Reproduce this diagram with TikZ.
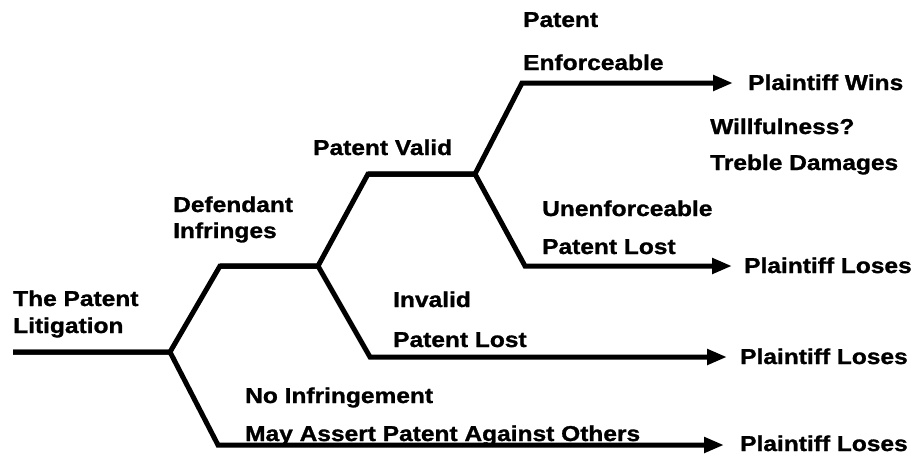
\documentclass[tikz,border=0pt]{standalone}
\usepackage{fontspec}
\setmainfont{Liberation Sans}[FakeStretch=1.14, BoldFeatures={FakeBold=1.2}]
\usetikzlibrary{arrows.meta}
\begin{document}
\begin{tikzpicture}[x=1pt,y=-1pt,
  branch/.style={line width=5pt, line join=miter, line cap=butt},
  outcome/.style={branch, -{Triangle[length=20pt,width=15pt]}},
  lbl/.style={anchor=base west, inner sep=0pt, font=\fontsize{21.5}{26}\selectfont\bfseries}]
\useasboundingbox (0,0) rectangle (917,455);

% branch points of the decision tree
\coordinate (root) at (13,352);
\coordinate (s1)   at (170,352);
\coordinate (inf0) at (220,266);
\coordinate (inf1) at (318,266);
\coordinate (non0) at (218,445);
\coordinate (nonE) at (724,445);
\coordinate (val0) at (368,174);
\coordinate (val1) at (475,174);
\coordinate (inv0) at (370,357);
\coordinate (invE) at (727,357);
\coordinate (enf0) at (522,83);
\coordinate (enfE) at (733,83);
\coordinate (une0) at (525,266);
\coordinate (uneE) at (732,266);

% branches
\draw[branch]  (root) -- (s1) -- (inf0) -- (inf1);
\draw[outcome] (root) -- (s1) -- (non0) -- (nonE);
\draw[branch]  (inf0) -- (inf1) -- (val0) -- (val1);
\draw[outcome] (inf0) -- (inf1) -- (inv0) -- (invE);
\draw[outcome] (val0) -- (val1) -- (enf0) -- (enfE);
\draw[outcome] (val0) -- (val1) -- (une0) -- (uneE);

% labels
\node[lbl] (t1a) at (13,306) {The Patent};
\node[lbl] (t1b) at (13,333) {Litigation};
\node[lbl] (t2a) at (173,212) {Defendant};
\node[lbl] (t2b) at (173,238) {Infringes};
\node[lbl] (t3)  at (313,155) {Patent Valid};
\node[lbl] (t4a) at (523,27) {Patent};
\node[lbl] (t4b) at (523,70) {Enforceable};
\node[lbl] (w1)  at (748,90) {Plaintiff Wins};
\node[lbl] (w2)  at (710,134) {Willfulness?};
\node[lbl] (w3)  at (710,170) {Treble Damages};
\node[lbl] (u1)  at (542,216) {Unenforceable};
\node[lbl] (u2)  at (542,254) {Patent Lost};
\node[lbl] (l1)  at (744,273) {Plaintiff Loses};
\node[lbl] (i1)  at (393,307) {Invalid};
\node[lbl] (i2)  at (393,347) {Patent Lost};
\node[lbl] (l2)  at (740,364) {Plaintiff Loses};
\node[lbl] (n1)  at (245,403) {No Infringement};
\node[lbl] (n2)  at (245,441) {May Assert Patent Against Others};
\node[lbl] (l3)  at (740,451) {Plaintiff Loses};
\end{tikzpicture}
\end{document}
